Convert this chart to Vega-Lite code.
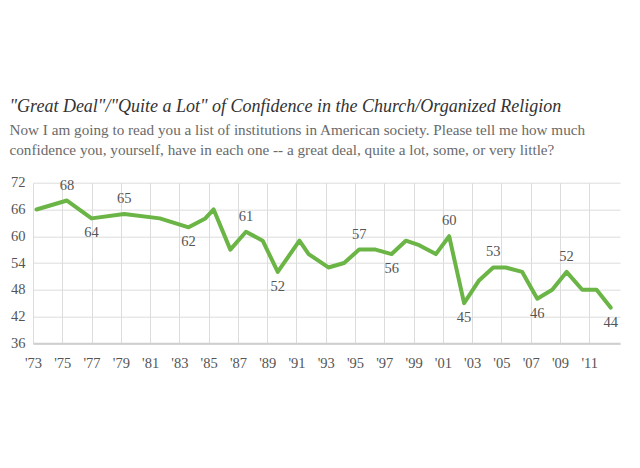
{
  "$schema": "https://vega.github.io/schema/vega-lite/v6.json",
  "autosize": {"type": "none"},
  "width": 587,
  "height": 160.6,
  "padding": {"left": 33, "top": 182.7, "right": 20, "bottom": 124.7},
  "background": "white",
  "title": {
    "text": "\"Great Deal\"/\"Quite a Lot\" of Confidence in the Church/Organized Religion",
    "subtitle": ["Now I am going to read you a list of institutions in American society. Please tell me how much", "confidence you, yourself, have in each one -- a great deal, quite a lot, some, or very little?"],
    "anchor": "start",
    "frame": "bounds",
    "font": "Liberation Serif",
    "fontStyle": "italic",
    "fontWeight": "normal",
    "fontSize": 18,
    "color": "#333333",
    "subtitleFont": "Liberation Serif",
    "subtitleFontSize": 15.2,
    "subtitleColor": "#6a6a6a",
    "subtitleLineHeight": 20,
    "subtitlePadding": 7,
    "offset": 17,
    "dx": -1
  },
  "config": {
    "view": {"stroke": null},
    "axis": {
      "labelFont": "Liberation Serif",
      "labelFontSize": 14.5,
      "labelColor": "#555555",
      "gridColor": "#dcdcdc",
      "gridWidth": 1,
      "ticks": false,
      "tickSize": 0,
      "title": null
    }
  },
  "data": {
    "values": [
      {"year": 1973.24, "value": 66},
      {"year": 1975.32, "value": 68},
      {"year": 1977.0, "value": 64},
      {"year": 1979.23, "value": 65},
      {"year": 1981.66, "value": 64},
      {"year": 1983.63, "value": 62},
      {"year": 1984.77, "value": 64},
      {"year": 1985.34, "value": 66},
      {"year": 1986.48, "value": 57},
      {"year": 1987.55, "value": 61},
      {"year": 1988.69, "value": 59},
      {"year": 1989.72, "value": 52},
      {"year": 1991.2, "value": 59},
      {"year": 1991.83, "value": 56},
      {"year": 1993.18, "value": 53},
      {"year": 1994.25, "value": 54},
      {"year": 1995.28, "value": 57},
      {"year": 1996.4, "value": 57},
      {"year": 1997.5, "value": 56},
      {"year": 1998.47, "value": 59},
      {"year": 1999.38, "value": 58},
      {"year": 2000.52, "value": 56},
      {"year": 2001.43, "value": 60},
      {"year": 2002.45, "value": 45},
      {"year": 2003.45, "value": 50},
      {"year": 2004.44, "value": 53},
      {"year": 2005.28, "value": 53},
      {"year": 2006.42, "value": 52},
      {"year": 2007.45, "value": 46},
      {"year": 2008.47, "value": 48},
      {"year": 2009.45, "value": 52},
      {"year": 2010.52, "value": 48},
      {"year": 2011.5, "value": 48},
      {"year": 2012.46, "value": 44}
    ]
  },
  "encoding": {
    "x": {
      "field": "year",
      "type": "quantitative",
      "scale": {"domain": [1973, 2013.1], "nice": false, "zero": false},
      "axis": {
        "values": [1973, 1975, 1977, 1979, 1981, 1983, 1985, 1987, 1989, 1991, 1993, 1995, 1997, 1999, 2001, 2003, 2005, 2007, 2009, 2011],
        "labelExpr": "\"'\" + slice(toString(datum.value), 2)",
        "labelPadding": 20,
        "labelBaseline": "middle",
        "domain": true,
        "domainColor": "#cfcfcf",
        "domainWidth": 2,
        "labelFlush": false,
        "labelOverlap": false
      }
    },
    "y": {
      "field": "value",
      "type": "quantitative",
      "scale": {"domain": [36, 72], "nice": false, "zero": false},
      "axis": {
        "values": [36, 42, 48, 54, 60, 66, 72],
        "labelPadding": 8,
        "domain": false,
        "labelFlush": false,
        "labelOverlap": false
      }
    }
  },
  "layer": [
    {
      "mark": {"type": "line", "color": "#6ab545", "strokeWidth": 4, "strokeJoin": "round", "strokeCap": "round"}
    },
    {
      "transform": [{"filter": {"field": "year", "oneOf": [1975.32, 1979.23, 1987.55, 1995.28, 2001.43, 2004.44, 2009.45]}}],
      "mark": {"type": "text", "font": "Liberation Serif", "fontSize": 14.5, "color": "#555555", "dy": -15, "baseline": "middle"},
      "encoding": {"text": {"field": "value", "type": "quantitative"}}
    },
    {
      "transform": [{"filter": {"field": "year", "oneOf": [1977.0, 1983.63, 1989.72, 1997.5, 2002.45, 2007.45, 2012.46]}}],
      "mark": {"type": "text", "font": "Liberation Serif", "fontSize": 14.5, "color": "#555555", "dy": 15, "baseline": "middle"},
      "encoding": {"text": {"field": "value", "type": "quantitative"}}
    }
  ]
}
